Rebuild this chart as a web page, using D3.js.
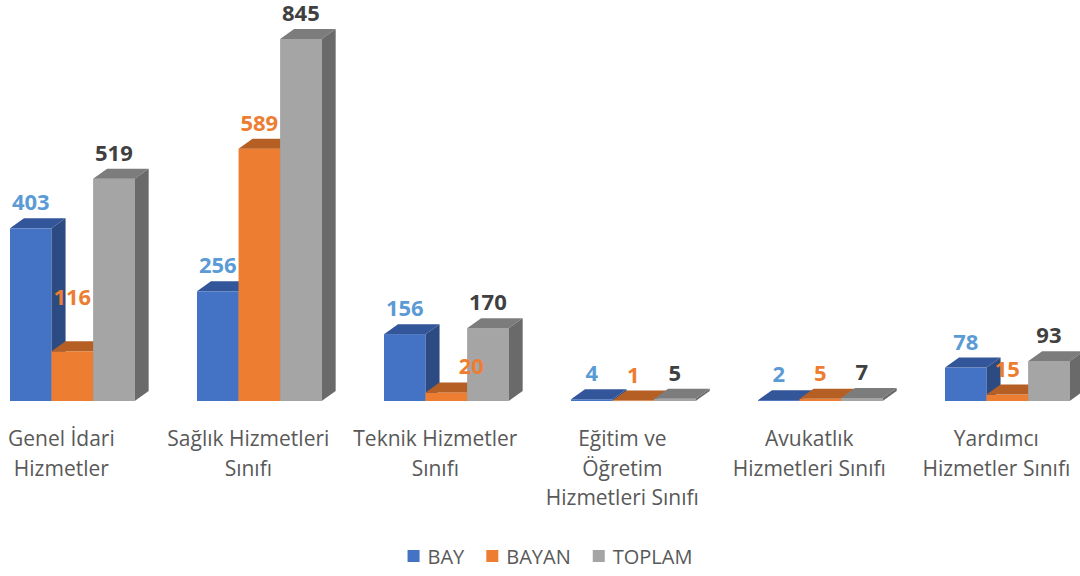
<!DOCTYPE html>
<html>
<head>
<meta charset="utf-8">
<script src="https://cdn.jsdelivr.net/npm/d3@7"></script>
<style>
  html, body { margin: 0; padding: 0; background: #fff; }
  svg { display: block; font-family: "Open Sans", "Noto Sans", sans-serif; }
</style>
</head>
<body>
<div id="chart"></div>
<script>
// categories (line breaks as in the original axis labels)
let categories = [
  "Genel İdari\nHizmetler",
  "Sağlık Hizmetleri\nSınıfı",
  "Teknik Hizmetler\nSınıfı",
  "Eğitim ve\nÖğretim\nHizmetleri Sınıfı",
  "Avukatlık\nHizmetleri Sınıfı",
  "Yardımcı\nHizmetler Sınıfı"
];
let seriesNames = ["BAY", "BAYAN", "TOPLAM"];
let bay    = [403, 256, 156, 4, 2, 78];
let bayan  = [116, 589, 20, 1, 5, 15];
let toplam = [519, 845, 170, 5, 7, 93];

let width = 1080;
let height = 576;

// colours per series: front, top, side, label
let colors = {
  BAY:    { front: "#4472C4", top: "#33569A", side: "#2C4B82", label: "#5B9BD5" },
  BAYAN:  { front: "#ED7D31", top: "#B65F24", side: "#A9561F", label: "#ED7D31" },
  TOPLAM: { front: "#A5A5A5", top: "#7C7C7C", side: "#6A6A6A", label: "#404040" }
};

let rows = categories.map((c, i) => ({
  cat: c,
  values: [
    { key: "BAY", value: bay[i] },
    { key: "BAYAN", value: bayan[i] },
    { key: "TOPLAM", value: toplam[i] }
  ]
}));

let svg = d3.select("#chart").append("svg")
  .attr("width", width).attr("height", height);

// 3d depth offset
let dx = 14, dy = -10;
let step = 187;

let x0 = d3.scaleBand()
  .domain(categories)
  .range([10, 10 + step * (categories.length - 1 / 3)])
  .paddingInner(1 / 3)
  .paddingOuter(0);

let x1 = d3.scaleBand()
  .domain(seriesNames)
  .range([0, x0.bandwidth()]);

let y = d3.scaleLinear()
  .domain([0, 845])
  .range([401, 39]);

// some labels Excel pushed away from their bar
let labelNudge = { "BAYAN|0": [0, -28], "BAYAN|2": [25, 0] };

rows.forEach((row, ci) => {
  let g = svg.append("g")
    .attr("transform", `translate(${x0(row.cat)},0)`);

  row.values.forEach(d => {
    let c = colors[d.key];
    let xl = x1(d.key), xr = xl + x1.bandwidth();
    let yt = y(d.value), yb = y(0);

    // front face
    g.append("rect")
      .attr("x", xl).attr("y", yt)
      .attr("width", xr - xl).attr("height", Math.max(yb - yt, 0.5))
      .attr("fill", c.front);
    // top face
    g.append("path")
      .attr("d", `M${xl},${yt}L${xl + dx},${yt + dy}L${xr + dx},${yt + dy}L${xr},${yt}Z`)
      .attr("fill", c.top);
    // side face
    g.append("path")
      .attr("d", `M${xr},${yt}L${xr + dx},${yt + dy}L${xr + dx},${yb + dy}L${xr},${yb}Z`)
      .attr("fill", c.side);
  });
});

// data labels drawn after all bars
rows.forEach((row, ci) => {
  row.values.forEach(d => {
    let nudge = labelNudge[d.key + "|" + ci] || [0, 0];
    let cx = x0(row.cat) + x1(d.key) + x1.bandwidth() / 2 + nudge[0];
    svg.append("text")
      .attr("x", cx)
      .attr("y", y(d.value) + dy - 8 + nudge[1])
      .attr("text-anchor", "middle")
      .attr("font-size", 22)
      .attr("font-weight", "bold")
      .attr("fill", colors[d.key].label)
      .text(d.value);
  });
});

// category axis labels
categories.forEach(c => {
  let cx = x0(c) + x0.bandwidth() / 2 - 11;
  let t = svg.append("text")
    .attr("text-anchor", "middle")
    .attr("font-size", 21)
    .attr("fill", "#595959");
  c.split("\n").forEach((line, i) => {
    t.append("tspan")
      .attr("x", cx)
      .attr("y", 446 + i * 29.5)
      .text(line);
  });
});

// legend, centred under the plot
let legend = svg.append("g");
let lx = 0;
seriesNames.forEach(s => {
  legend.append("rect")
    .attr("x", lx).attr("y", 550)
    .attr("width", 12).attr("height", 12)
    .attr("fill", colors[s].front);
  let t = legend.append("text")
    .attr("x", lx + 20).attr("y", 564)
    .attr("font-size", 20)
    .attr("fill", "#595959")
    .text(s);
  lx += 20 + t.node().getComputedTextLength() + 22;
});
let legendW = lx - 22;
legend.attr("transform", `translate(${550 - legendW / 2},0)`);
</script>
</body>
</html>
